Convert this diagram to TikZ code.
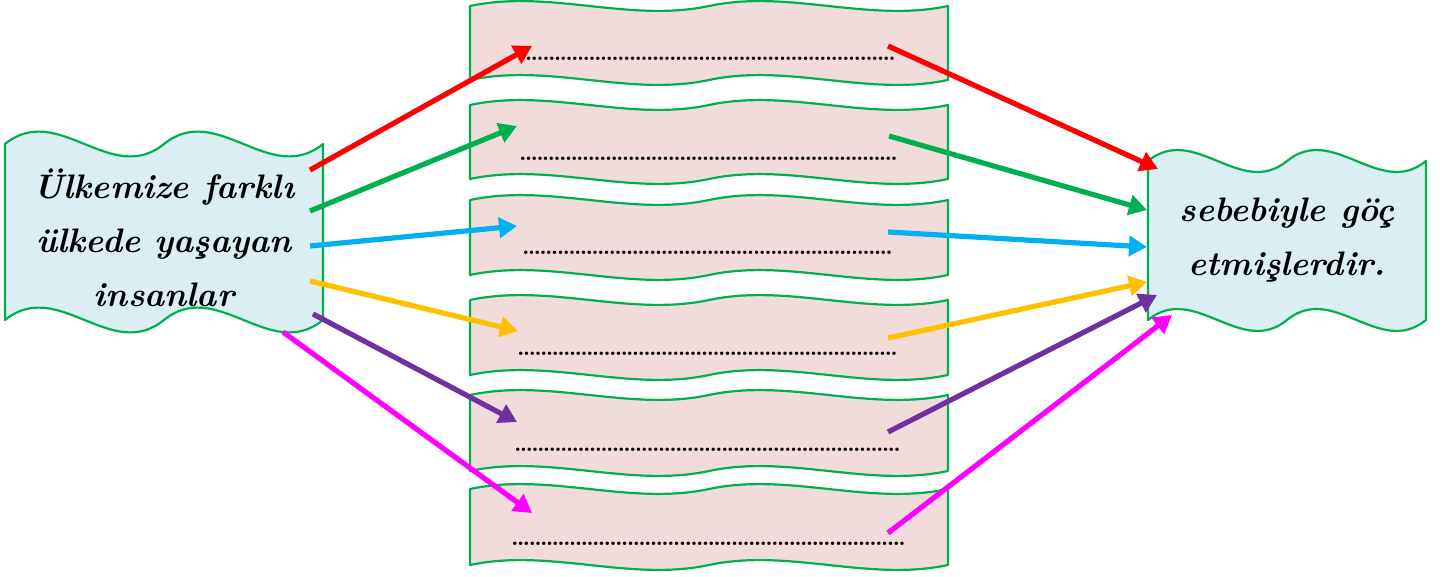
\documentclass[tikz,border=0pt]{standalone}
\usepackage{fontspec}
\usetikzlibrary{arrows.meta}
\definecolor{bgreen}{HTML}{00B050}
\definecolor{pinkfill}{HTML}{F2DCDB}
\definecolor{bluefill}{HTML}{DBEEF4}
\definecolor{cred}{HTML}{FF0000}
\definecolor{cgreen}{HTML}{00B050}
\definecolor{cblue}{HTML}{00B0F0}
\definecolor{cyellow}{HTML}{FFC000}
\definecolor{cpurple}{HTML}{7030A0}
\definecolor{cmagenta}{HTML}{FF00FF}
% #1 x1, #2 x2, #3 top midline, #4 bottom midline, #5 control offset, #6 fill
\newcommand\wavyshape[6]{%
  \pgfmathsetmacro\wvH{(#2-#1)/2}%
  \pgfmathsetmacro\wvB{#1+\wvH/3}%
  \pgfmathsetmacro\wvC{#1+2*\wvH/3}%
  \pgfmathsetmacro\wvD{#1+\wvH}%
  \pgfmathsetmacro\wvE{#1+4*\wvH/3}%
  \pgfmathsetmacro\wvF{#1+5*\wvH/3}%
  \draw[boxline, fill=#6] (#1,#3) .. controls (\wvB,#3-#5) and (\wvC,#3+#5) .. (\wvD,#3)
    .. controls (\wvE,#3-#5) and (\wvF,#3+#5) .. (#2,#3) -- (#2,#4)
    .. controls (\wvF,#4+#5) and (\wvE,#4-#5) .. (\wvD,#4)
    .. controls (\wvC,#4+#5) and (\wvB,#4-#5) .. (#1,#4) -- cycle;}
\newcommand\dotrow[1]{\hbox to #1{\xleaders\hbox to 2.85pt{\hss.\hss}\hfill}}
\tikzset{
  boxline/.style={draw=bgreen, line width=1.1pt, line join=round},
  conn/.style={line width=2.6pt, -{Triangle[length=9pt,width=10pt]}},
  bigtext/.style={font=\fontsize{17}{27}\selectfont\bfseries\itshape, align=center, inner sep=0pt},
  dotsline/.style={font=\fontsize{12}{12}\selectfont\bfseries, inner sep=0pt, anchor=base}
}
\begin{document}
\begin{tikzpicture}[x=0.5pt,y=-0.5pt]
\useasboundingbox (0,0) rectangle (1450,577);
% side boxes
\wavyshape{5}{323}{144}{320}{43}{bluefill}
\wavyshape{1148}{1426}{161}{320}{38}{bluefill}
% middle boxes
\wavyshape{470}{948}{6}{80}{17}{pinkfill}
\wavyshape{470}{948}{105}{179}{17}{pinkfill}
\wavyshape{470}{948}{200}{275}{17}{pinkfill}
\wavyshape{470}{948}{300}{375}{17}{pinkfill}
\wavyshape{470}{948}{395}{471}{17}{pinkfill}
\wavyshape{470}{948}{489}{565}{17}{pinkfill}
% texts
\node[bigtext] (left) at (164,238) {Ülkemize farklı\\ülkede yaşayan\\insanlar};
\node[bigtext] (right) at (1287,240) {sebebiyle göç\\etmişlerdir.};
\node[dotsline] (m1) at (707.5,61) {\dotrow{187.5pt}};
\node[dotsline] (m2) at (708.5,161) {\dotrow{188.5pt}};
\node[dotsline] (m3) at (707.5,255) {\dotrow{184.5pt}};
\node[dotsline] (m4) at (707.5,355) {\dotrow{189.5pt}};
\node[dotsline] (m5) at (707.5,451) {\dotrow{192.5pt}};
\node[dotsline] (m6) at (708.5,545) {\dotrow{196.5pt}};
% connector end points
\coordinate (lr) at (310,170);  \coordinate (m1i) at (532,46);
\coordinate (lg) at (310,211);  \coordinate (m2i) at (517,126);
\coordinate (lb) at (310,246);  \coordinate (m3i) at (517,226);
\coordinate (ly) at (310,281);  \coordinate (m4i) at (518,331);
\coordinate (lp) at (313,314);  \coordinate (m5i) at (517,422);
\coordinate (lm) at (283,332);  \coordinate (m6i) at (532,513);
\coordinate (m1o) at (888,46);  \coordinate (rr) at (1158,169);
\coordinate (m2o) at (889,136); \coordinate (rg) at (1147,210);
\coordinate (m3o) at (888,232); \coordinate (rb) at (1147,247);
\coordinate (m4o) at (888,338); \coordinate (ry) at (1147,282);
\coordinate (m5o) at (888,432); \coordinate (rp) at (1157,295);
\coordinate (m6o) at (888,533); \coordinate (rm) at (1172,315);
% arrows
\draw[conn, cred] (lr) -- (m1i);
\draw[conn, cgreen] (lg) -- (m2i);
\draw[conn, cblue] (lb) -- (m3i);
\draw[conn, cyellow] (ly) -- (m4i);
\draw[conn, cpurple] (lp) -- (m5i);
\draw[conn, cmagenta] (lm) -- (m6i);
\draw[conn, cred] (m1o) -- (rr);
\draw[conn, cgreen] (m2o) -- (rg);
\draw[conn, cblue] (m3o) -- (rb);
\draw[conn, cyellow] (m4o) -- (ry);
\draw[conn, cpurple] (m5o) -- (rp);
\draw[conn, cmagenta] (m6o) -- (rm);
\end{tikzpicture}
\end{document}
